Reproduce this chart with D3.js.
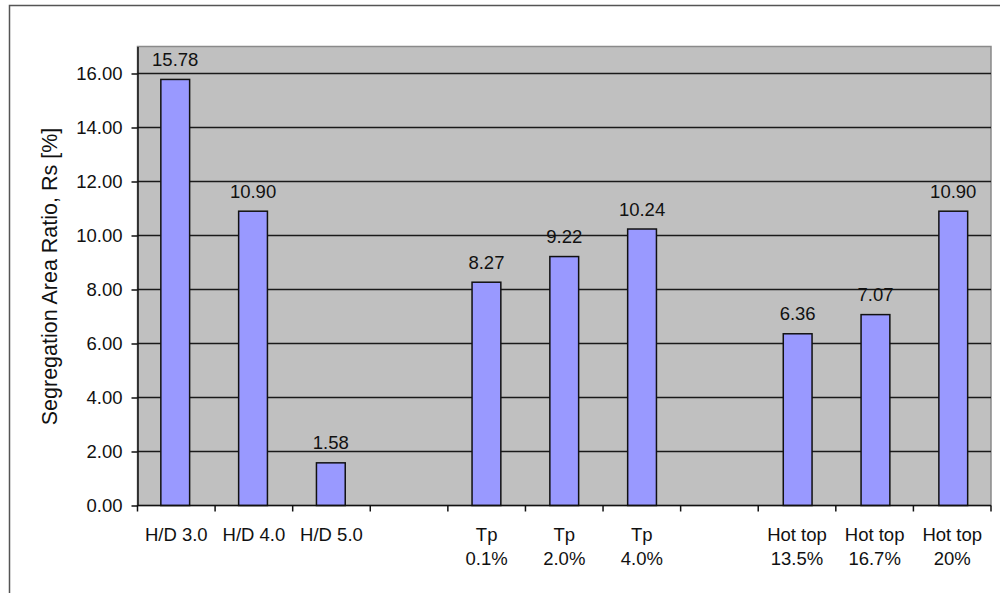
<!DOCTYPE html>
<html>
<head>
<meta charset="utf-8">
<script src="https://cdn.jsdelivr.net/npm/d3@7"></script>
<style>
  html, body { margin: 0; padding: 0; background: #fff; }
  svg { display: block; font-family: "Liberation Sans", Arial, sans-serif; }
</style>
</head>
<body>
<svg id="chart" width="1000" height="593"></svg>
<script>
// Category slots (empty slots separate the three groups); multi-line labels use "\n"
const categories = ["H/D 3.0", "H/D 4.0", "H/D 5.0", "", "Tp\n0.1%", "Tp\n2.0%", "Tp\n4.0%", "", "Hot top\n13.5%", "Hot top\n16.7%", "Hot top\n20%"];
const ratioValues = [15.78, 10.90, 1.58, null, 8.27, 9.22, 10.24, null, 6.36, 7.07, 10.90];
const yTicks = [0, 2, 4, 6, 8, 10, 12, 14, 16];
const yMax = 17;
const yTitle = "Segregation Area Ratio, Rs [%]";

const svg = d3.select("#chart");
const plot = { left: 137.5, right: 991, top: 46.5, bottom: 505.5 };

// outer chart frame (runs off the right and bottom edges)
svg.append("rect")
  .attr("x", 9.5).attr("y", 5.5).attr("width", 1000).attr("height", 600)
  .attr("fill", "#fff").attr("stroke", "#555").attr("stroke-width", 1.5);

const x = d3.scaleBand()
  .domain(d3.range(categories.length))
  .range([plot.left, plot.right])
  .paddingInner(0.63)
  .paddingOuter(0.3);

const y = d3.scaleLinear().domain([0, yMax]).range([plot.bottom, plot.top]);

// plot background
svg.append("rect")
  .attr("x", plot.left).attr("y", plot.top)
  .attr("width", plot.right - plot.left).attr("height", plot.bottom - plot.top)
  .attr("fill", "#c0c0c0").attr("stroke", "#8a8a8a").attr("stroke-width", 1.5);

// horizontal gridlines
svg.append("g")
  .selectAll("line")
  .data(yTicks.filter(d => d > 0))
  .join("line")
  .attr("x1", plot.left).attr("x2", plot.right)
  .attr("y1", d => y(d)).attr("y2", d => y(d))
  .attr("stroke", "#1a1a1a").attr("stroke-width", 1.4);

// bars
const barData = categories.map((c, i) => ({ i, v: ratioValues[i] })).filter(d => d.v != null);
svg.append("g")
  .selectAll("rect")
  .data(barData)
  .join("rect")
  .attr("x", d => x(d.i))
  .attr("width", x.bandwidth())
  .attr("y", d => y(d.v))
  .attr("height", d => y(0) - y(d.v))
  .attr("fill", "#9999ff")
  .attr("stroke", "#111").attr("stroke-width", 1.5);

// value labels
svg.append("g")
  .selectAll("text")
  .data(barData)
  .join("text")
  .attr("x", d => x(d.i) + x.bandwidth() / 2)
  .attr("y", d => y(d.v) - 13.5)
  .attr("text-anchor", "middle")
  .attr("font-size", 18.5)
  .attr("fill", "#111")
  .text(d => d.v.toFixed(2));

// y axis
const yAxis = d3.axisLeft(y).tickValues(yTicks).tickFormat(d3.format(".2f"))
  .tickSize(6).tickSizeOuter(0).tickPadding(9);
const gy = svg.append("g").attr("transform", `translate(${plot.left},0)`).call(yAxis);
gy.select(".domain").attr("stroke", "#111").attr("stroke-width", 1.5);
gy.selectAll(".tick line").attr("stroke", "#111").attr("stroke-width", 1.5);
gy.selectAll(".tick text").attr("font-size", 18.5).attr("fill", "#111").attr("font-family", "Liberation Sans, Arial, sans-serif");

// x axis line and slot-boundary ticks
const step = (plot.right - plot.left) / categories.length;
const boundaries = d3.range(categories.length + 1).map(i => plot.left + i * step);
const gx = svg.append("g");
gx.append("line")
  .attr("x1", plot.left).attr("x2", plot.right)
  .attr("y1", plot.bottom).attr("y2", plot.bottom)
  .attr("stroke", "#111").attr("stroke-width", 1.5);
gx.selectAll("line.tick")
  .data(boundaries)
  .join("line")
  .attr("class", "tick")
  .attr("x1", d => d).attr("x2", d => d)
  .attr("y1", plot.bottom).attr("y2", plot.bottom + 6)
  .attr("stroke", "#111").attr("stroke-width", 1.5);

// category labels
const labels = gx.selectAll("text.cat")
  .data(categories.map((c, i) => ({ i, lines: c ? c.split("\n") : [] })))
  .join("text")
  .attr("class", "cat")
  .attr("text-anchor", "middle")
  .attr("font-size", 18.5)
  .attr("fill", "#111")
  .attr("transform", d => `translate(${plot.left + (d.i + 0.5) * step},${plot.bottom + 35})`);
labels.selectAll("tspan")
  .data(d => d.lines)
  .join("tspan")
  .attr("x", 0)
  .attr("y", (d, k) => k * 24)
  .text(d => d);

// y axis title
svg.append("text")
  .attr("transform", `translate(57,${(125 + 428) / 2}) rotate(-90)`)
  .attr("text-anchor", "middle")
  .attr("font-size", 21.5)
  .attr("fill", "#111")
  .text(yTitle);
</script>
</body>
</html>
